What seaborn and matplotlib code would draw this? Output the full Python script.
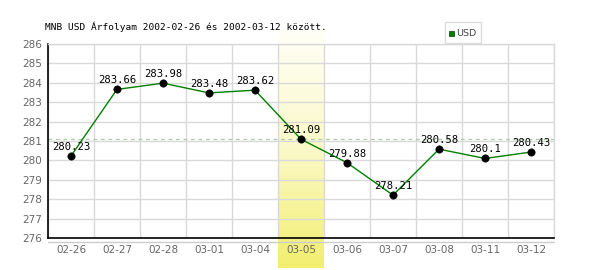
import numpy as np
import pandas as pd
import matplotlib
matplotlib.use("Agg")
import matplotlib.pyplot as plt
import seaborn as sns
from matplotlib.colors import LinearSegmentedColormap
from matplotlib.patches import Rectangle

dates = ["02-26", "02-27", "02-28", "03-01", "03-04", "03-05",
         "03-06", "03-07", "03-08", "03-11", "03-12"]
values = [280.23, 283.66, 283.98, 283.48, 283.62, 281.09,
          279.88, 278.21, 280.58, 280.1, 280.43]
labels = ["280.23", "283.66", "283.98", "283.48", "283.62", "281.09",
          "279.88", "278.21", "280.58", "280.1", "280.43"]
highlight = "03-05"
ref_value = 281.09
yticks = list(range(276, 287))
title = "MNB USD Árfolyam 2002-02-26 és 2002-03-12 között."
series_name = "USD"

sns.set_theme(style="white")
plt.rcParams['font.family'] = ['DejaVu Sans']

df = pd.DataFrame({"x": np.arange(len(dates)), "y": values})

fig = plt.figure(figsize=(6, 2.7), dpi=100)
W, H = 600, 270
L, R, B, T = 48, 554, 238, 44

# highlight band (gradient), extends beyond plot area
hi = dates.index(highlight)
cw = (R - L) / len(dates)
bx0 = L + hi * cw
band = fig.add_axes([bx0 / W, (H - 268) / H, cw / W, (268 - 30) / H], zorder=0)
grad = np.linspace(0, 1, 256).reshape(-1, 1)
cmap = LinearSegmentedColormap.from_list("hl", ["#fffff8", "#fbf9c8", "#f2ee6e"])
band.imshow(grad, aspect="auto", cmap=cmap, origin="upper", extent=[0, 1, 0, 1])
band.set_axis_off()

ax = fig.add_axes([L / W, (H - B) / H, (R - L) / W, (B - T) / H], zorder=1)
ax.patch.set_alpha(0)

ax.set_xlim(-0.5, len(dates) - 0.5)
ax.set_ylim(276, 286)
ax.set_yticks(yticks)
ax.set_xticks(range(len(dates)))
ax.set_xticklabels(dates)
ax.set_xticks(np.arange(len(dates) + 1) - 0.5, minor=True)
ax.grid(True, which="minor", axis="x", color="#d9d9d9", lw=1)
ax.grid(True, which="major", axis="y", color="#d9d9d9", lw=1)
ax.set_axisbelow(True)

ax.axhline(ref_value, color="#a8cca8", lw=0.9, ls=(0, (3, 3)), zorder=1.5)

sns.lineplot(data=df, x="x", y="y", color="#008000", lw=1, ax=ax, zorder=2, sort=False)
sns.scatterplot(data=df, x="x", y="y", color="black", s=28, edgecolor="black", ax=ax, zorder=3)

for xi, (v, lab) in enumerate(zip(values, labels)):
    ax.annotate(lab, (xi, v), xytext=(0, 3), textcoords="offset points",
                ha="center", va="bottom", fontsize=7.6, family="DejaVu Sans Mono",
                color="black", zorder=4)

ax.set_xlabel("")
ax.set_ylabel("")
for s in ["top", "right"]:
    ax.spines[s].set_color("#d9d9d9")
    ax.spines[s].set_linewidth(1)
for s in ["left", "bottom"]:
    ax.spines[s].set_color("black")
    ax.spines[s].set_linewidth(1.2)
ax.tick_params(axis="both", which="both", length=0, labelsize=7.5, labelcolor="#666666")
ax.tick_params(axis="x", pad=5)
ax.tick_params(axis="y", pad=4.5)

# grey line under x-axis
fig.add_artist(plt.Line2D([L / W, R / W], [(H - 242) / H] * 2, color="#cccccc", lw=1))

fig.text(45 / W, (H - 27) / H, title, family="DejaVu Sans Mono", fontsize=6.8,
         color="black", va="center", ha="left")

# legend box
fig.add_artist(Rectangle((445 / W, (H - 43) / H), 36 / W, 21 / H, transform=fig.transFigure,
                         facecolor="white", edgecolor="#dddddd", lw=1))
fig.add_artist(Rectangle((449 / W, (H - 35.5) / H), 5 / W, 5 / H, transform=fig.transFigure,
                         facecolor="#008000", edgecolor="#004400", lw=0.5))
fig.text(456 / W, (H - 33) / H, series_name, fontsize=6.8, color="#444444",
         va="center", ha="left")

fig.savefig("out.png", dpi=100)
